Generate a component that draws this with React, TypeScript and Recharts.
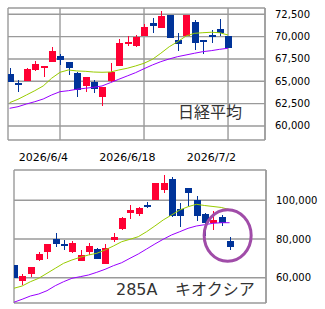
import React from 'react';
import { ComposedChart, Bar, Line, XAxis, YAxis, CartesianGrid, ReferenceDot } from 'recharts';

// trading dates (x categories)
const dates = [
  '2026/5/27', '2026/5/28', '2026/5/29', '2026/6/1', '2026/6/2', '2026/6/3', '2026/6/4',
  '2026/6/5', '2026/6/8', '2026/6/9', '2026/6/10', '2026/6/11', '2026/6/12', '2026/6/15',
  '2026/6/16', '2026/6/17', '2026/6/18', '2026/6/19', '2026/6/22', '2026/6/23', '2026/6/24',
  '2026/6/25', '2026/6/26', '2026/6/29', '2026/6/30', '2026/7/1', '2026/7/2',
];
const dateTicks = ['2026/6/4', '2026/6/18', '2026/7/2'];

// 日経平均
const nkOpen = [65820, 64780, 65040, 66270, 66490, 67200, 67830, 67160, 65970, 64510, 64960, 63280, 65070, 66750, 69180, 68990, 70070, 71560, 71000, 72420, 69620, 70070, 71600, 69620, 70180, 70820, 70070];
const nkHigh = [66460, 65150, 66460, 67270, 66720, 68870, 68060, 67160, 66080, 65450, 65150, 64330, 67080, 69700, 70070, 70180, 71420, 72050, 72870, 72420, 70370, 72420, 71860, 69620, 70740, 71970, 70070];
const nkLow = [64960, 63840, 65040, 66150, 65520, 67200, 66830, 65710, 63280, 63840, 63660, 62240, 64960, 66750, 68990, 68870, 70070, 70440, 71000, 69810, 68430, 70070, 68500, 68060, 69260, 70100, 68700];
const nkClose = [64960, 64620, 66380, 66940, 66720, 68390, 67390, 66530, 64030, 65450, 64110, 64330, 66010, 69260, 69400, 69990, 71050, 71220, 72300, 69810, 69140, 72420, 69320, 69370, 70070, 70370, 68700];
const nkMaShort = [62610, 62990, 63470, 63950, 64480, 65340, 66010, 66270, 66160, 66120, 66040, 66010, 66040, 66270, 66460, 66720, 67020, 67460, 68140, 68870, 69430, 70070, 70370, 70440, 70490, 70440, 70180];
const nkMaLong = [61980, 62160, 62460, 62720, 63020, 63470, 63840, 63950, 64110, 64220, 64330, 64480, 64850, 65230, 65600, 65970, 66410, 66830, 67200, 67500, 67760, 67950, 68140, 68320, 68430, 68580, 68700];
const nkTicks = [60000, 62500, 65000, 67500, 70000, 72500];

// 285A キオクシア
const kxOpen = [66600, 58450, 61910, 69150, 73440, 79850, 77260, 73440, 68790, 73280, 74680, 67080, 79480, 85010, 93280, 92920, 97570, 100160, 105320, 110850, 95350, 106200, 100160, 92920, 88110, 91210, 79120];
const kxHigh = [66600, 61910, 65370, 73440, 77420, 83260, 79480, 78970, 74320, 78090, 75190, 77260, 83260, 91210, 97570, 96380, 99280, 108790, 113080, 111890, 98760, 106200, 102380, 93590, 94470, 92250, 80880];
const kxLow = [59690, 56230, 60520, 68630, 69660, 76020, 74320, 72920, 68790, 71730, 69660, 67080, 78600, 84500, 90340, 92040, 95870, 100160, 103620, 91210, 86360, 97050, 89300, 81550, 84650, 86720, 74320];
const kxClose = [59690, 60880, 65370, 72250, 77420, 77420, 76740, 78090, 71730, 76380, 69660, 75190, 80880, 90700, 94990, 95870, 96690, 108790, 109100, 91890, 91890, 103620, 91890, 88110, 89820, 88420, 76020];
const kxMaShort = [54520, 55710, 57930, 59690, 62270, 64860, 67440, 69150, 70540, 71730, 72610, 74320, 76380, 78600, 79850, 81190, 83770, 86720, 89820, 92400, 94990, 96690, 97930, 97300, 96800, 96300, 95200];
const kxMaLong = [47290, 48840, 50540, 51580, 53280, 55870, 57930, 59690, 60520, 61400, 62790, 64340, 66200, 67750, 70030, 72250, 74830, 77420, 79850, 82070, 83770, 85530, 86720, 87390, 88110, 88420, 88420];
const kxTicks = [60000, 80000, 100000];
const kxMark = { x: 25.77, y: 81800 };

const UP = '#FF0033';
const DOWN = '#003399';
const GRID = '#9A9A9A';
const MA_S = '#99CC00';
const MA_L = '#9900FF';
const FONT = '"DejaVu Sans", sans-serif';

const build = (o: number[], h: number[], l: number[], c: number[], s: number[], g: number[]) =>
  dates.map((d, i) => ({ i, date: d, open: o[i], high: h[i], low: l[i], close: c[i], maS: s[i], maL: g[i] }));

const nkRows = build(nkOpen, nkHigh, nkLow, nkClose, nkMaShort, nkMaLong);
const kxRows = build(kxOpen, kxHigh, kxLow, kxClose, kxMaShort, kxMaLong);
const tickIdx = dateTicks.map((t) => dates.indexOf(t));

const Candle = (props: any) => {
  const { x, y, width, height, payload } = props;
  if (!payload || height == null) return null;
  const { open, close, high, low } = payload;
  const cx = Math.round(x + width / 2) + 0.5;
  const ratio = height / (high - low || 1);
  const yOf = (v: number) => y + (high - v) * ratio;
  const color = close >= open ? UP : DOWN;
  const top = yOf(Math.max(open, close));
  const bot = yOf(Math.min(open, close));
  return (
    <g shapeRendering="crispEdges">
      <line x1={cx} x2={cx} y1={y} y2={y + height} stroke={color} strokeWidth={1} />
      <rect x={cx - 3.5} y={top} width={7} height={Math.max(bot - top, 1.5)} fill={color} />
    </g>
  );
};

const DateTick = (props: any) => {
  const { x, y, payload } = props;
  return (
    <text x={x - 16.6} y={y + 20.7} textAnchor="middle" fontSize={11} fontFamily={FONT} fill="#000">
      {dates[payload.value]}
    </text>
  );
};

const PriceTick = (props: any) => {
  const { x, y, payload } = props;
  return (
    <text x={x + 10} y={y + 3.5} textAnchor="start" fontSize={10} fontFamily={FONT} fill="#000">
      {Number(payload.value).toLocaleString('en-US')}
    </text>
  );
};

const Ring = (props: any) => {
  const { cx, cy } = props;
  return <ellipse cx={cx} cy={cy} rx={23.5} ry={25.7} fill="none" stroke="#A04CA8" strokeWidth={3} />;
};

export default function App() {
  return (
    <div style={{ position: 'absolute', left: 0, top: 0, width: 325, height: 309, background: '#fff' }}>
      <div style={{ position: 'absolute', left: 0, top: 0 }}>
        <ComposedChart width={325} height={170} data={nkRows} margin={{ top: 8, right: 0, bottom: 0, left: 8 }}>
          <CartesianGrid stroke={GRID} strokeWidth={1.4} />
          <XAxis dataKey="i" type="number" domain={[-0.19, 30.4]} allowDataOverflow ticks={tickIdx} interval={0}
            height={30} tickSize={0} tickMargin={0} axisLine={false} tickLine={false} tick={<DateTick />} />
          <YAxis orientation="right" type="number" domain={[58433, 73205]} allowDataOverflow ticks={nkTicks} interval={0}
            width={60} tickSize={0} tickMargin={0} axisLine={{ stroke: GRID, strokeWidth: 1.4 }} tickLine={false} tick={<PriceTick />} />
          <Bar dataKey={(d: any) => [d.low, d.high]} barSize={7} shape={<Candle />} isAnimationActive={false} />
          <Line dataKey="maS" stroke={MA_S} strokeWidth={1} dot={false} isAnimationActive={false} />
          <Line dataKey="maL" stroke={MA_L} strokeWidth={1} dot={false} isAnimationActive={false} />
        </ComposedChart>
      </div>
      <div style={{ position: 'absolute', left: 0, top: 0 }}>
        <ComposedChart width={325} height={305} data={kxRows} margin={{ top: 170, right: 0, bottom: 2, left: 14 }}>
          <CartesianGrid stroke={GRID} strokeWidth={1.4} />
          <XAxis dataKey="i" type="number" domain={[0.024, 30.39]} allowDataOverflow ticks={tickIdx} interval={0}
            height={0} tick={false} axisLine={false} tickLine={false} />
          <YAxis orientation="right" type="number" domain={[46925, 115659]} allowDataOverflow ticks={kxTicks} interval={0}
            width={59} tickSize={0} tickMargin={0} axisLine={{ stroke: GRID, strokeWidth: 1.4 }} tickLine={false} tick={<PriceTick />} />
          <Bar dataKey={(d: any) => [d.low, d.high]} barSize={7} shape={<Candle />} isAnimationActive={false} />
          <Line dataKey="maS" stroke={MA_S} strokeWidth={1} dot={false} isAnimationActive={false} />
          <Line dataKey="maL" stroke={MA_L} strokeWidth={1} dot={false} isAnimationActive={false} />
          <ReferenceDot x={kxMark.x} y={kxMark.y} r={24} shape={<Ring />} ifOverflow="visible" />
        </ComposedChart>
      </div>
      <svg width={325} height={309} style={{ position: 'absolute', left: 0, top: 0, pointerEvents: 'none' }}>
        <text x={178} y={117.5} fontSize={16} fill="#333" fontFamily='"Noto Sans CJK JP", sans-serif'>日経平均</text>
        <text x={116} y={294.5} fontSize={16} fill="#333" fontFamily='"DejaVu Sans", "Noto Sans CJK JP", sans-serif'>285A</text>
        <text x={175} y={294.5} fontSize={16} fill="#333" fontFamily='"Noto Sans CJK JP", sans-serif'>キオクシア</text>
      </svg>
    </div>
  );
}
